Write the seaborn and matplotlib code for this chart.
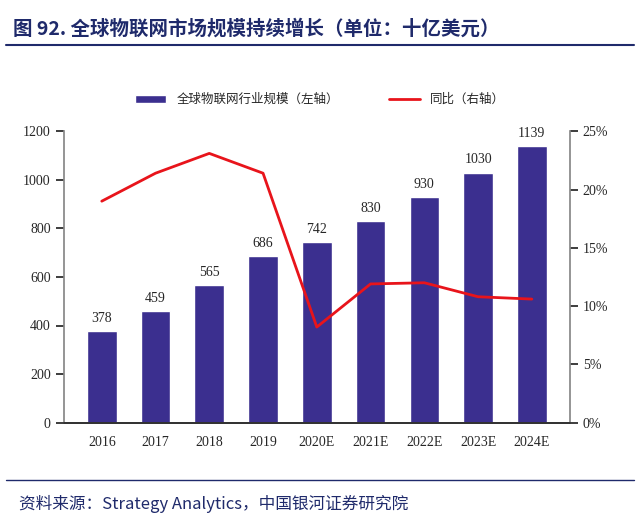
import matplotlib.pyplot as plt
import seaborn as sns
import pandas as pd

years = ['2016', '2017', '2018', '2019', '2020E', '2021E', '2022E', '2023E', '2024E']
scale = [378, 459, 565, 686, 742, 830, 930, 1030, 1139]
growth = [19.0, 21.4, 23.1, 21.4, 8.2, 11.9, 12.0, 10.8, 10.6]

sns.set_theme(style='white')
plt.rcParams['font.family'] = ['Noto Sans CJK SC', 'DejaVu Sans']

df = pd.DataFrame({'year': years, 'scale': scale, 'growth': growth})

fig = plt.figure(figsize=(6.4, 5.25), dpi=100)
ax = fig.add_axes([0.1, 0.195, 0.79, 0.555])
sns.barplot(data=df, x='year', y='scale', color='#3B2F8F', width=0.55, ax=ax,
            label='全球物联网行业规模（左轴）', saturation=1)
for i, v in enumerate(scale):
    ax.text(i, v + 25, str(v), ha='center', va='bottom', fontsize=10, family='Liberation Serif')
ax.set_ylim(0, 1200)
ax.set_yticks(range(0, 1201, 200))
ax.set_xlabel('')
ax.set_ylabel('')
for lab in ax.get_xticklabels() + ax.get_yticklabels():
    lab.set_family('Liberation Serif')
    lab.set_fontsize(10)
for s in ['top', 'right']:
    ax.spines[s].set_visible(False)
ax.spines['left'].set_color('#888888')
ax.spines['bottom'].set_color('#888888')

ax2 = ax.twinx()
sns.lineplot(x=list(range(len(years))), y=growth, color='#E8141B', linewidth=2, ax=ax2,
             label='同比（右轴）', legend=False)
ax2.set_ylim(0, 25)
ax2.set_yticks(range(0, 26, 5))
ax2.set_yticklabels([f'{v}%' for v in range(0, 26, 5)], family='Liberation Serif', fontsize=10)
for s in ['top', 'left']:
    ax2.spines[s].set_visible(False)
ax2.spines['right'].set_color('#888888')

h1, l1 = ax.get_legend_handles_labels()
h2, l2 = ax2.get_legend_handles_labels()
if ax.get_legend():
    ax.get_legend().remove()
fig.legend(h1 + h2, l1 + l2, loc='center', bbox_to_anchor=(0.5, 0.81), ncol=2,
           frameon=False, fontsize=9, handlelength=2.5, columnspacing=4)

fig.text(0.02, 0.935, '图 92. 全球物联网市场规模持续增长（单位：十亿美元）', fontsize=14,
         fontweight='bold', color='#1F2A6B')
fig.add_artist(plt.Line2D([0.01, 0.99], [0.915, 0.915], color='#1F2A6B', linewidth=1.5))
fig.add_artist(plt.Line2D([0.01, 0.99], [0.085, 0.085], color='#1F2A6B', linewidth=1))
fig.text(0.03, 0.03, '资料来源：Strategy Analytics，中国银河证券研究院', fontsize=12,
         style='italic', color='#1F2A6B')

fig.savefig('out.png', dpi=100)
